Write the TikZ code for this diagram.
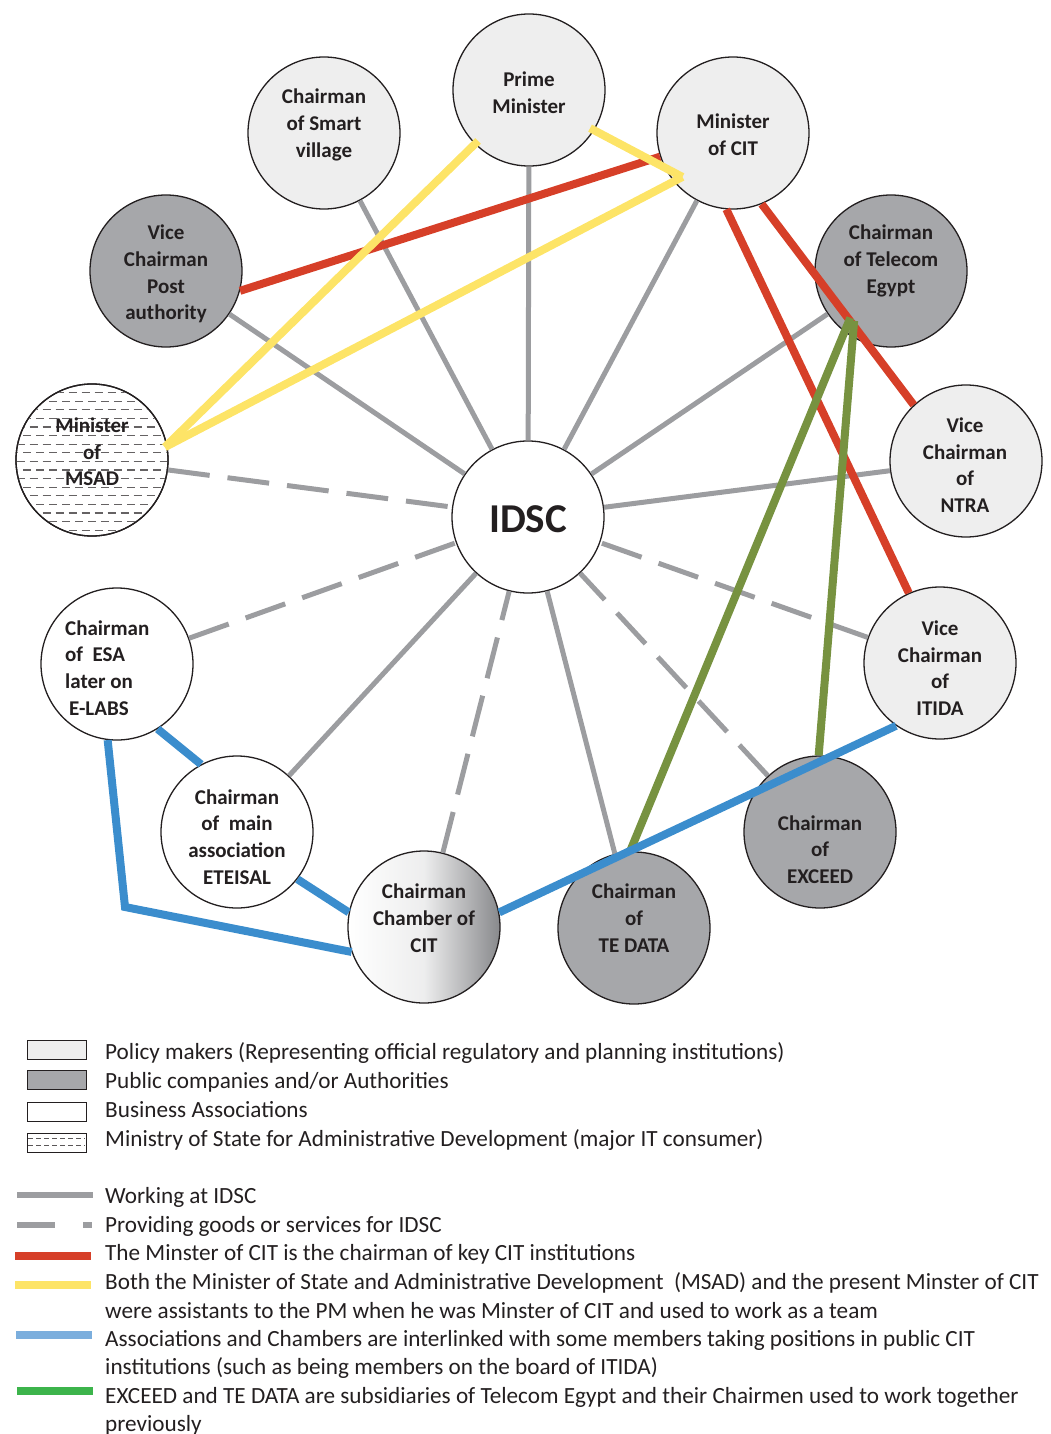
\documentclass[tikz,border=0pt]{standalone}
\usepackage{fontspec}
\setmainfont{Carlito}
\usetikzlibrary{calc}
\definecolor{linegray}{HTML}{9C9DA0}
\definecolor{polfill}{HTML}{EEEEEE}
\definecolor{pubfill}{HTML}{A6A7AA}
\definecolor{chamdark}{HTML}{88898C}
\definecolor{redl}{HTML}{D63F28}
\definecolor{yell}{HTML}{FDE467}
\definecolor{greenl}{HTML}{779240}
\definecolor{bluel}{HTML}{3B8DCD}
\definecolor{legblue}{HTML}{7BAEDD}
\definecolor{leggreen}{HTML}{3CB44B}
\definecolor{txt}{HTML}{231F20}
\tikzset{
  actor/.style={circle, draw=txt, line width=1.3pt, minimum size=152pt, inner sep=0pt},
  policy/.style={actor, fill=polfill},
  public/.style={actor, fill=pubfill},
  business/.style={actor, fill=white},
  lab/.style={align=center, inner sep=0pt, text=txt, font=\fontsize{21}{26.7}\selectfont\bfseries},
  work/.style={draw=linegray, line width=5pt},
  supply/.style={draw=linegray, line width=5pt, dash pattern=on 42pt off 18pt},
  chairlink/.style={draw=redl, line width=8pt},
  teamlink/.style={draw=yell, line width=8pt},
  assoclink/.style={draw=bluel, line width=8pt},
  sublink/.style={draw=greenl, line width=8pt},
  legtext/.style={anchor=base west, inner sep=0pt, text=txt, font=\fontsize{23.2}{28}\selectfont},
}
\begin{document}
\begin{tikzpicture}[x=1pt,y=-1pt]
\useasboundingbox (0,0) rectangle (1051,1434);

% nodes
\node[policy] (pm) at (529,90) {};
\node[policy] (cit) at (733,133) {};
\node[policy] (sv) at (324,133) {};
\node[public] (post) at (166,271) {};
\node[actor, fill=white] (msad) at (92,460) {};
\node[public] (tel) at (891,271) {};
\node[policy] (ntra) at (966,461) {};
\node[policy] (itida) at (940,663) {};
\node[public] (exc) at (820,832) {};
\node[public] (ted) at (634,928) {};
\node[actor, left color=white, right color=chamdark, middle color=white!85!chamdark] (cham) at (424,927) {};
\node[business] (ete) at (237,832) {};
\node[business] (esa) at (117,664) {};
\node[actor, fill=white] (idsc) at (528,517) {};

% MSAD dash texture
\begin{scope}
  \clip (92,460) circle (75pt);
  \foreach \i in {0,2,...,18} {
    \draw[txt!70, line width=1.3pt, dash pattern=on 8pt off 5pt] (10,{384+\i*8.6}) -- (180,{384+\i*8.6});
  }
  \foreach \i in {1,3,...,17} {
    \draw[txt!70, line width=1.3pt, dash pattern=on 8pt off 5pt] (3.5,{384+\i*8.6}) -- (180,{384+\i*8.6});
  }
\end{scope}
\draw[txt, line width=1.3pt] (92,460) circle (76pt);

% gray connectors (clipped at node borders)
\draw[work] (idsc) -- (pm);
\draw[work] (idsc) -- (sv);
\draw[work] (idsc) -- (post);
\draw[work] (idsc) -- (cit);
\draw[work] (idsc) -- (tel);
\draw[work] (idsc) -- (ntra);
\draw[work] (idsc) -- (ete);
\draw[work] (idsc) -- (ted);
\draw[supply] (msad) -- (idsc);
\draw[supply] (esa) -- (idsc);
\draw[supply] (cham) -- (idsc);
\draw[supply] (exc) -- (idsc);
\draw[supply] (itida) -- (idsc);

% labels
\node[lab] (pm-t) at (529,92.5) {Prime\\Minister};
\node[lab] (cit-t) at (733,135) {Minister\\of CIT};
\node[lab] (sv-t) at (324,125) {Chairman\\of Smart\\village};
\node[lab] (post-t) at (166,274) {Vice\\Chairman\\Post\\authority};
\node[lab] (msad-t) at (92,452) {Minister\\of\\MSAD};
\node[lab] (tel-t) at (891,261) {Chairman\\of Telecom\\Egypt};
\node[lab] (ntra-t) at (965,465) {Vice\\Chairman\\of\\NTRA};
\node[lab] (itida-t) at (940,668) {Vice\\Chairman\\of\\ITIDA};
\node[lab] (exc-t) at (820,849.5) {Chairman\\of\\EXCEED};
\node[lab] (ted-t) at (634,918) {Chairman\\of\\TE DATA};
\node[lab] (cham-t) at (424,918) {Chairman\\Chamber of\\CIT};
\node[lab] (ete-t) at (237,837) {Chairman\\of\ \ main\\association\\ETEISAL};
\node[lab, align=left, anchor=west] (esa-t) at (65,668) {Chairman\\of\ \ ESA\\later on\\\hspace*{4pt}E-LABS};
\node[lab, font=\fontsize{41}{45}\selectfont\bfseries] (idsc-t) at (528,519) {IDSC};

% coloured connectors
\draw[chairlink] (post.-15) -- (cit.198);
\draw[chairlink] (cit.-68) -- (ntra.133);
\draw[chairlink] (cit.-95.6) -- (itida.114.7);
\coordinate (yjoin) at ($(cit)+(221:67pt)$);
\draw[teamlink] ($(msad)+(10:74pt)$) -- ($(pm)+(225:72pt)$);
\draw[teamlink] ($(msad)+(10:74pt)$) -- (yjoin);
\draw[teamlink] ($(pm)+(-32:72pt)$) -- (yjoin);
\draw[sublink] ($(tel)+(229:62pt)$) -- (ted.93);
\draw[sublink] ($(tel)+(233.5:62pt)$) -- (exc.91.5);
\coordinate (bend) at (125,907);
\draw[assoclink] (esa.-58.9) -- (ete.118);
\draw[assoclink] (ete.-38) -- (cham.169);
\draw[assoclink] (esa.-97) -- (bend) -- (cham.199);
\draw[assoclink] (cham.11.8) -- (itida.235.5);

% legend: node types
\draw[txt, line width=0.9pt, fill=polfill] (27,1040) rectangle (86,1059);
\draw[txt, line width=0.9pt, fill=pubfill] (27,1070) rectangle (86,1089);
\draw[txt, line width=0.9pt, fill=white] (27,1102) rectangle (86,1121);
\draw[txt, line width=0.9pt, fill=white] (27,1133) rectangle (86,1152);
\draw[txt!75, line width=1pt, dash pattern=on 5pt off 3pt] (28,1138.5) -- (85,1138.5);
\draw[txt!75, line width=1pt, dash pattern=on 5pt off 3pt] (28,1145.5) -- (85,1145.5);
\node[legtext] (l1) at (105,1059) {Policy makers (Representing official regulatory and planning institutions)};
\node[legtext] (l2) at (105,1088) {Public companies and/or Authorities};
\node[legtext] (l3) at (105,1117) {Business Associations};
\node[legtext] (l4) at (105,1146) {Ministry of State for Administrative Development (major IT consumer)};

% legend: connector types
\draw[linegray, line width=6pt] (17,1195) -- (93,1195);
\draw[linegray, line width=6pt] (17,1225) -- (55,1225);
\draw[linegray, line width=6pt] (83,1225) -- (92,1225);
\draw[redl, line width=8pt] (15,1256) -- (91,1256);
\draw[yell, line width=8pt] (15,1285) -- (91,1285);
\draw[legblue, line width=8pt] (16,1335) -- (92,1335);
\draw[leggreen, line width=8pt] (17,1391) -- (93,1391);
\node[legtext] (l5) at (105,1203) {Working at IDSC};
\node[legtext] (l6) at (105,1232) {Providing goods or services for IDSC};
\node[legtext] (l7) at (105,1260) {The Minster of CIT is the chairman of key CIT institutions};
\node[legtext] (l8) at (105,1289) {Both the Minister of State and Administrative Development\ \ (MSAD) and the present Minster of CIT};
\node[legtext] (l9) at (105,1318) {were assistants to the PM when he was Minster of CIT and used to work as a team};
\node[legtext] (l10) at (105,1346) {Associations and Chambers are interlinked with some members taking positions in public CIT};
\node[legtext] (l11) at (105,1374) {institutions (such as being members on the board of ITIDA)};
\node[legtext] (l12) at (105,1403) {EXCEED and TE DATA are subsidiaries of Telecom Egypt and their Chairmen used to work together};
\node[legtext] (l13) at (105,1431) {previously};
\end{tikzpicture}
\end{document}
